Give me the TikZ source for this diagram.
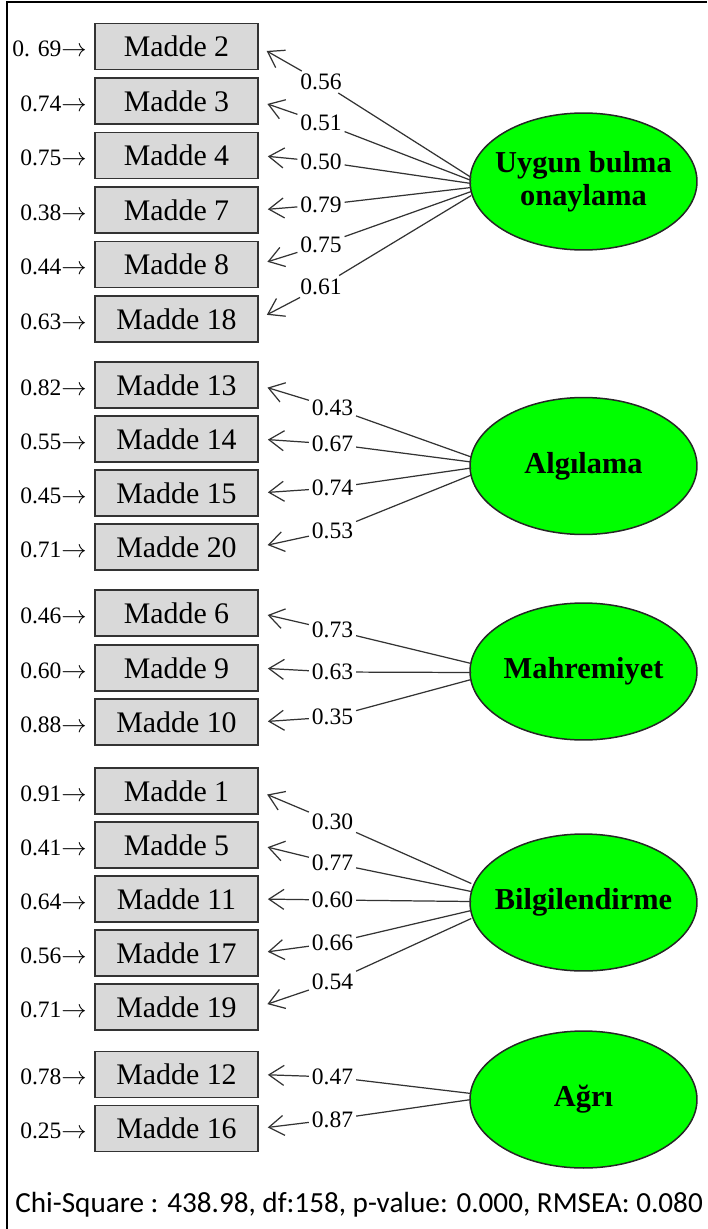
\documentclass[tikz,border=0pt]{standalone}
\usepackage{fontspec}
\setmainfont{Liberation Serif}
\newfontfamily\carlito{Carlito}
\usetikzlibrary{shapes.geometric,arrows.meta,calc}

\tikzset{
  madde/.style={draw=black!80, line width=0.035cm, fill=black!15, minimum width=3.26cm,
    minimum height=0.92cm, inner sep=0pt, font=\fontsize{17}{20}\selectfont},
  faktor/.style={ellipse, draw=black!85, line width=0.03cm, fill=green, minimum width=4.54cm,
    minimum height=2.74cm, inner ysep=0pt, inner xsep=-0.8cm, align=center,
    font=\fontsize{17.3}{18.8}\selectfont\bfseries},
  yuk/.style={inner sep=1.5pt, font=\fontsize{13.4}{16}\selectfont},
  hata/.style={anchor=base east, inner sep=0pt, font=\fontsize{13.4}{16}\selectfont},
  cizgi/.style={draw=black!80, line width=0.7pt},
  ok/.style={cizgi, -{Straight Barb[length=0.3cm,width=0.4cm]}, shorten >=0.18cm},
}

\begin{document}
\begin{tikzpicture}[x=0.02cm,y=-0.02cm]
\useasboundingbox (0,0) rectangle (707,1229);
\draw[line width=0.04cm] (7,1229) -- (7,2) -- (707,2);

% maddeler
\foreach \n/\y/\e in {2/46.5/0. 69, 3/101/0.74, 4/155.5/0.75, 7/210/0.38, 8/264.5/0.44, 18/319/0.63,
    13/385/0.82, 14/439/0.55, 15/493/0.45, 20/547/0.71,
    6/613/0.46, 9/668/0.60, 10/722/0.88,
    1/791/0.91, 5/845/0.41, 11/899/0.64, 17/953/0.56, 19/1007/0.71,
    12/1074.5/0.78, 16/1128.5/0.25}{
  \node[madde] (m\n) at (176.5,\y) {Madde \n};
  \node[hata] (h\n) at ([xshift=-0.14cm]m\n.base west) {\e$\rightarrow$};
}

% faktorler
\node[faktor] (uyg) at (583.5,181.5) {Uygun bulma\\onaylama};
\node[faktor] (alg) at (583.5,466) {Algılama};
\node[faktor] (mah) at (583.5,671.5) {Mahremiyet};
\node[faktor] (bil) at (583.5,902.5) {Bilgilendirme};
\node[faktor] (agr) at (583.5,1099.5) {Ağrı};

% yukler
\foreach \f/\n/\v/\x/\y/\o in {uyg/2/0.56/321/82/-4, uyg/3/0.51/321/122.5/-1, uyg/4/0.50/321/161.5/2,
    uyg/7/0.79/321/205/6, uyg/8/0.75/321/245/10, uyg/18/0.61/321/286.5/14,
    alg/13/0.43/332.5/407.5/-9, alg/14/0.67/332.5/444/-4, alg/15/0.74/332.5/488/2, alg/20/0.53/332.5/531/9,
    mah/6/0.73/332.5/630/-8, mah/9/0.63/332.5/672/1, mah/10/0.35/332.5/717/8,
    bil/1/0.30/332.5/822/-19, bil/5/0.77/332.5/863/-11, bil/11/0.60/332.5/900/-1,
    bil/17/0.66/332.5/943/8, bil/19/0.54/332.5/982/16,
    agr/12/0.47/332.5/1077/-6, agr/16/0.87/332.5/1119.5/0}{
  \node[yuk] (y\n) at (\x,\y) {\v};
  \draw[cizgi] ($(\f.west)+(2,\o)$) -- (y\n);
  \draw[ok] (y\n) -- (m\n.east);
}

\node[anchor=base west, inner sep=0pt, font=\carlito\fontsize{16.6}{20}\selectfont] (uyum) at (15,1212)
  {Chi-Square : 438.98, df:158, p-value: 0.000, RMSEA: 0.080};
\end{tikzpicture}
\end{document}
